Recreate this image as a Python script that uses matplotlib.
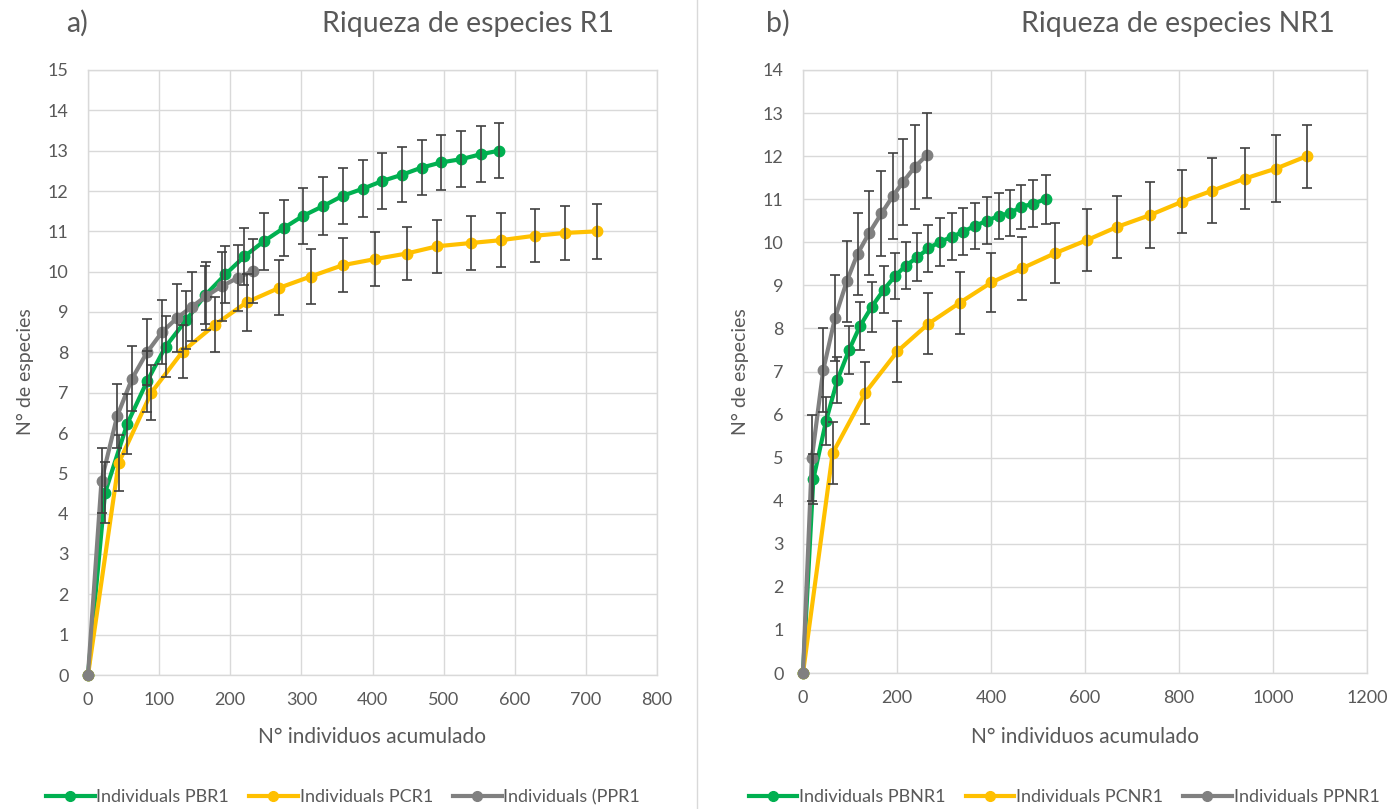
import matplotlib
matplotlib.use("Agg")
import matplotlib.pyplot as plt
from matplotlib.lines import Line2D

plt.rcParams['font.family'] = ['Lato', 'DejaVu Sans']

# ---- Riqueza de especies R1 ----
r1_pb_x = [0, 24, 55, 83, 109, 138, 165, 193, 220, 247, 275, 302, 331, 358, 387, 414, 441, 469, 497, 525, 552, 578]
r1_pb_y = [0, 4.52, 6.22, 7.28, 8.14, 8.8, 9.42, 9.93, 10.38, 10.75, 11.08, 11.38, 11.63, 11.88, 12.06, 12.25,
           12.4, 12.58, 12.71, 12.79, 12.91, 13.0]
r1_pb_e = [0, 0.75, 0.75, 0.75, 0.75, 0.72, 0.72, 0.7, 0.7, 0.7, 0.7, 0.7, 0.72, 0.7, 0.7, 0.7, 0.68, 0.68,
           0.68, 0.7, 0.69, 0.68]

r1_pc_x = [0, 43, 89, 133, 179, 223, 269, 313, 358, 403, 448, 491, 538, 580, 628, 671, 716]
r1_pc_y = [0, 5.25, 7.0, 8.02, 8.69, 9.24, 9.6, 9.88, 10.16, 10.31, 10.45, 10.63, 10.71, 10.78, 10.89, 10.96, 11.0]
r1_pc_e = [0, 0.7, 0.68, 0.66, 0.68, 0.7, 0.68, 0.67, 0.67, 0.67, 0.65, 0.66, 0.66, 0.67, 0.66, 0.67, 0.68]

r1_pp_x = [0, 19, 41, 62, 83, 104, 125, 146, 166, 188, 211, 232]
r1_pp_y = [0, 4.82, 6.42, 7.35, 8.0, 8.5, 8.85, 9.13, 9.39, 9.64, 9.85, 10.02]
r1_pp_e = [0, 0.8, 0.8, 0.8, 0.82, 0.8, 0.84, 0.85, 0.84, 0.86, 0.82, 0.8]

# ---- Riqueza de especies NR1 ----
nr1_pb_x = [0, 22, 49, 73, 98, 121, 146, 172, 196, 219, 243, 267, 291, 318, 341, 366, 391, 416, 440, 464, 490, 516]
nr1_pb_y = [0, 4.5, 5.85, 6.8, 7.5, 8.05, 8.5, 8.9, 9.22, 9.46, 9.65, 9.86, 10.01, 10.13, 10.25, 10.38, 10.5,
            10.61, 10.68, 10.82, 10.9, 11.0]
nr1_pb_e = [0, 0.58, 0.56, 0.54, 0.56, 0.56, 0.58, 0.55, 0.54, 0.54, 0.56, 0.54, 0.55, 0.55, 0.55, 0.54, 0.55,
            0.54, 0.54, 0.52, 0.54, 0.57]

nr1_pc_x = [0, 63, 132, 201, 267, 334, 401, 467, 537, 604, 669, 738, 806, 871, 940, 1006, 1072]
nr1_pc_y = [0, 5.1, 6.5, 7.47, 8.11, 8.6, 9.07, 9.4, 9.75, 10.05, 10.36, 10.63, 10.94, 11.2, 11.48, 11.71, 12.0]
nr1_pc_e = [0, 0.72, 0.71, 0.71, 0.71, 0.72, 0.69, 0.73, 0.69, 0.72, 0.72, 0.77, 0.73, 0.76, 0.71, 0.77, 0.73]

nr1_pp_x = [0, 19, 43, 68, 93, 116, 141, 167, 191, 213, 238, 263]
nr1_pp_y = [0, 5.0, 7.03, 8.24, 9.09, 9.73, 10.22, 10.67, 11.07, 11.4, 11.75, 12.02]
nr1_pp_e = [0, 1.0, 0.98, 1.0, 0.95, 0.96, 0.98, 0.98, 1.0, 0.99, 0.97, 0.99]

labels_r1 = ["Individuals PBR1", "Individuals PCR1", "Individuals (PPR1"]
labels_nr1 = ["Individuals PBNR1", "Individuals PCNR1", "Individuals PPNR1"]
x_ticks_r1 = [0, 100, 200, 300, 400, 500, 600, 700, 800]
x_ticks_nr1 = [0, 200, 400, 600, 800, 1000, 1200]
y_ticks_r1 = list(range(0, 16))
y_ticks_nr1 = list(range(0, 15))

GREEN = "#00B050"
YELLOW = "#FFC000"
GRAY = "#808080"
TXT = "#595959"
GRID = "#D9D9D9"
ERR = "#404040"

W, H = 1391, 809
fig = plt.figure(figsize=(W / 100, H / 100), dpi=100)
fig.patch.set_facecolor("white")


def px_rect(x0, y0, x1, y1):
    return [x0 / W, 1 - y1 / H, (x1 - x0) / W, (y1 - y0) / H]


def draw_panel(ax, series, xticks, yticks):
    for x, y, e, c in series:
        ax.plot(x, y, "-o", color=c, lw=3, ms=7.5, zorder=3, clip_on=False,
                solid_joinstyle="round")
        ax.errorbar(x[1:], y[1:], yerr=e[1:], fmt="none", ecolor=ERR, elinewidth=1.2,
                    capsize=3.5, capthick=1.2, zorder=4)
    ax.set_xlim(xticks[0], xticks[-1])
    ax.set_ylim(yticks[0], yticks[-1])
    ax.set_xticks(xticks)
    ax.set_yticks(yticks)
    ax.grid(True, color=GRID, lw=1, zorder=0)
    ax.set_axisbelow(True)
    for s in ax.spines.values():
        s.set_color(GRID)
        s.set_linewidth(1)
    ax.tick_params(length=0, labelsize=13, labelcolor=TXT, pad=12)
    ax.tick_params(axis="y", pad=14)


ax1 = fig.add_axes(px_rect(88, 70, 657, 675))
draw_panel(ax1, [(r1_pb_x, r1_pb_y, r1_pb_e, GREEN),
                 (r1_pc_x, r1_pc_y, r1_pc_e, YELLOW),
                 (r1_pp_x, r1_pp_y, r1_pp_e, GRAY)], x_ticks_r1, y_ticks_r1)

ax2 = fig.add_axes(px_rect(803, 70, 1367, 673))
draw_panel(ax2, [(nr1_pb_x, nr1_pb_y, nr1_pb_e, GREEN),
                 (nr1_pc_x, nr1_pc_y, nr1_pc_e, YELLOW),
                 (nr1_pp_x, nr1_pp_y, nr1_pp_e, GRAY)], x_ticks_nr1, y_ticks_nr1)

# titles
TS = 20.5
fig.text(66 / W, 1 - 32 / H, "a)", fontsize=TS, color=TXT, ha="left", va="baseline")
fig.text(614 / W, 1 - 32 / H, "Riqueza de especies R1", fontsize=TS, color=TXT, ha="right", va="baseline")
fig.text(766 / W, 1 - 32 / H, "b)", fontsize=TS, color=TXT, ha="left", va="baseline")
fig.text(1335 / W, 1 - 32 / H, "Riqueza de especies NR1", fontsize=TS, color=TXT, ha="right", va="baseline")

# axis titles
fig.text(372 / W, 1 - 737 / H, "N° individuos acumulado", fontsize=15, color=TXT, ha="center", va="center")
fig.text(1085 / W, 1 - 737 / H, "N° individuos acumulado", fontsize=15, color=TXT, ha="center", va="center")
fig.text(25 / W, 1 - 372 / H, "N° de especies", fontsize=14, color=TXT, ha="center", va="center", rotation=90)
fig.text(740 / W, 1 - 372 / H, "N° de especies", fontsize=14, color=TXT, ha="center", va="center", rotation=90)

# chart separator
fig.add_artist(Line2D([697 / W, 697 / W], [0, 1], color=GRID, lw=1))


def handles(colors):
    return [Line2D([0], [0], color=c, lw=3, marker="o", ms=7) for c in colors]


for labels, cx in ((labels_r1, 343), (labels_nr1, 1064)):
    leg = fig.legend(handles([GREEN, YELLOW, GRAY]), labels, loc="center",
                     bbox_to_anchor=(cx / W, 1 - 797 / H), ncol=3, frameon=False,
                     fontsize=13, handlelength=2.7, handletextpad=0.1, columnspacing=1.1,
                     numpoints=1, borderpad=0)
    for t in leg.get_texts():
        t.set_color(TXT)

fig.savefig("out.png", dpi=100, facecolor="white")
